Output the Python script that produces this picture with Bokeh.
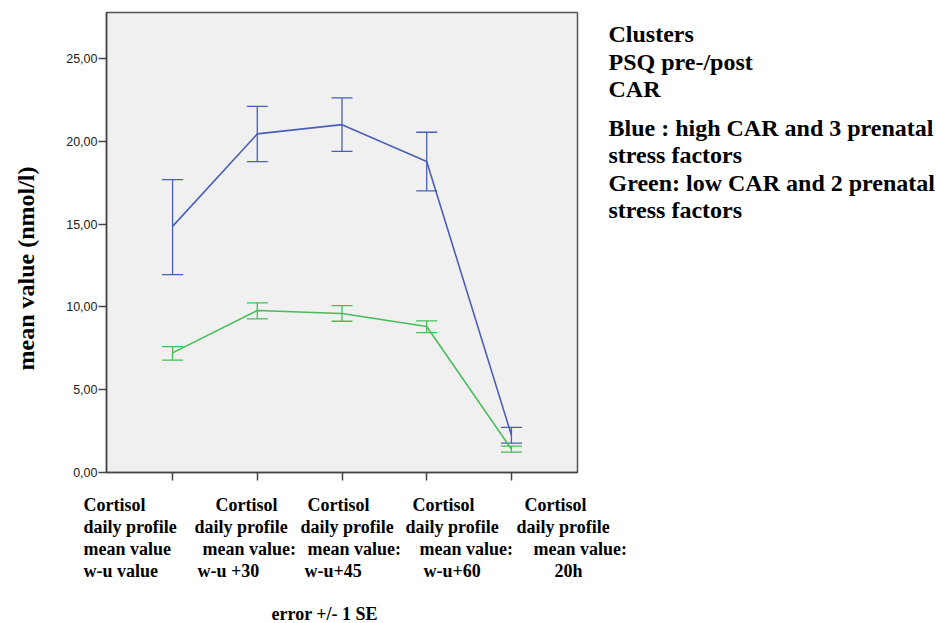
import math
from bokeh.plotting import figure
from bokeh.layouts import row, column
from bokeh.models import (ColumnDataSource, Whisker, TeeHead, FixedTicker, Range1d)
from bokeh.core.properties import value
from bokeh.embed import file_html
from bokeh.resources import INLINE

# ---------------- data ----------------
time_points = [1, 2, 3, 4, 5]
blue_mean = [14.86, 20.44, 21.00, 18.77, 2.25]
blue_upper = [17.68, 22.10, 22.61, 20.54, 2.73]
blue_lower = [11.95, 18.77, 19.39, 17.00, 1.77]
green_mean = [7.22, 9.78, 9.60, 8.81, 1.41]
green_upper = [7.60, 10.24, 10.08, 9.15, 1.59]
green_lower = [6.78, 9.27, 9.13, 8.45, 1.23]

y_tick_values = [0, 5, 10, 15, 20, 25]
y_tick_labels = ["0,00", "5,00", "10,00", "15,00", "20,00", "25,00"]

x_label_blocks = [
    ["Cortisol", "daily profile", "mean  value", "w-u value"],
    ["Cortisol", "daily profile", "mean value:", "w-u +30"],
    ["Cortisol", "daily profile", "mean  value:", "w-u+45"],
    ["Cortisol", "daily profile", "mean  value:", "w-u+60"],
    ["Cortisol", "daily profile", "mean  value:", "20h"],
]
x_title = "error +/- 1 SE"
y_title = "mean value (nmol/l)"
legend_lines = ["Clusters", "PSQ pre-/post", "CAR",
                "Blue : high CAR and 3 prenatal", "stress factors",
                "Green: low CAR and 2 prenatal", "stress factors"]

# ---------------- layout (picture px) ----------------
W, H = 936, 622
LEFT_W = 60            # strip holding the y title
FRAME_L, FRAME_T, FRAME_R, FRAME_B = 106, 12, 577, 472
FRAME_H = FRAME_B - FRAME_T
MAIN_BOTTOM = 16
TOP_H = FRAME_B + MAIN_BOTTOM
MAIN_W = FRAME_R + 2 - LEFT_W
RIGHT_W = W - (LEFT_W + MAIN_W)
BOT_H = H - TOP_H
block_lefts = [
    [83, 83, 83, 83],
    [215, 194, 202, 197],
    [307, 300, 307, 304],
    [412, 405, 419, 423],
    [524, 516, 533, 554],
]
row_ys = [504, 526, 548, 570]
x_title_pos = (271, 613)
y_title_pos = (25, 268)
legend_x = 608
legend_ys = [33, 61, 88, 127, 154, 182, 209]

BLUE = "#4a5eb6"
GREEN = "#45bd5a"
SERIF = "Liberation Serif"


def blank(width, frame_h, top, bottom_border):
    f = figure(frame_width=width, frame_height=frame_h,
               x_range=Range1d(0, width), y_range=Range1d(0, frame_h),
               min_border_left=0, min_border_right=0, min_border_top=top,
               min_border_bottom=bottom_border,
               x_axis_location=None, y_axis_location=None,
               output_backend="svg", toolbar_location=None)
    f.outline_line_color = None
    f.grid.visible = False
    f.background_fill_color = "white"
    f.border_fill_color = "white"
    return f


# ---------------- main chart ----------------
p = figure(frame_width=FRAME_R - FRAME_L, frame_height=FRAME_H,
           min_border_left=FRAME_L - LEFT_W, min_border_top=FRAME_T,
           min_border_right=2, min_border_bottom=MAIN_BOTTOM,
           x_range=Range1d(0.22, 5.78), y_range=Range1d(0, 27.77),
           output_backend="svg", toolbar_location=None)
p.border_fill_color = "white"
p.background_fill_color = "#f0f0f0"
p.outline_line_color = "#555555"
p.outline_line_width = 1.5
p.grid.visible = False

p.yaxis.ticker = FixedTicker(ticks=y_tick_values)
p.yaxis.major_label_overrides = {v: l for v, l in zip(y_tick_values, y_tick_labels)}
p.yaxis.major_label_text_font = "Liberation Sans"
p.yaxis.major_label_text_font_size = "12.5px"
p.yaxis.major_label_text_color = "#222222"
p.yaxis.major_label_standoff = 1
p.xaxis.ticker = FixedTicker(ticks=time_points)
p.xaxis.major_label_overrides = {t: "" for t in time_points}
for ax in (p.xaxis, p.yaxis):
    ax.axis_line_color = "#444444"
    ax.axis_line_width = 1.5
    ax.major_tick_line_color = "#444444"
    ax.major_tick_line_width = 1.5
    ax.major_tick_in = 0
    ax.major_tick_out = 8
    ax.minor_tick_line_color = None

for mean, up, lo, col in ((blue_mean, blue_upper, blue_lower, BLUE),
                          (green_mean, green_upper, green_lower, GREEN)):
    src = ColumnDataSource(dict(x=time_points, y=mean, upper=up, lower=lo))
    p.line("x", "y", source=src, line_color=col, line_width=1.6)
    w = Whisker(source=src, base="x", upper="upper", lower="lower",
                dimension="height", line_color=col, line_width=1.3,
                upper_head=TeeHead(size=21, line_color=col, line_width=1.3),
                lower_head=TeeHead(size=21, line_color=col, line_width=1.3))
    p.add_layout(w)

# ---------------- y title strip (frame aligned with the chart frame) ----------
left = blank(LEFT_W, FRAME_H, FRAME_T, MAIN_BOTTOM)
left.text(x=[y_title_pos[0]], y=[FRAME_B - y_title_pos[1]], text=[y_title],
          angle=math.pi / 2, text_font=value(SERIF), text_font_style="bold",
          text_font_size="24px", text_color="black",
          text_align="center", text_baseline="middle")

# ---------------- legend text strip ----------------
right = blank(RIGHT_W, FRAME_H, FRAME_T, MAIN_BOTTOM)
right.text(x=[legend_x - (LEFT_W + MAIN_W)] * len(legend_lines),
           y=[FRAME_B - ly for ly in legend_ys], text=legend_lines,
           text_font=value(SERIF), text_font_style="bold",
           text_font_size="24px", text_color="black",
           text_align="left", text_baseline="middle")

# ---------------- x category text strip ----------------
bottom = blank(W, BOT_H, 0, 0)
xs, ys, ts = [], [], []
for block, lefts in zip(x_label_blocks, block_lefts):
    for line, lx, ly in zip(block, lefts, row_ys):
        xs.append(lx)
        ys.append(H - ly)
        ts.append(line)
bottom.text(x=xs, y=ys, text=ts, text_font=value(SERIF), text_font_style="bold",
            text_font_size="18px", text_color="black",
            text_align="left", text_baseline="middle")
bottom.text(x=[x_title_pos[0]], y=[H - x_title_pos[1]], text=[x_title],
            text_font=value(SERIF), text_font_style="bold",
            text_font_size="18px", text_color="black",
            text_align="left", text_baseline="middle")

layout = column(row(left, p, right, spacing=0), bottom, spacing=0)
open("out.html", "w").write(file_html(layout, INLINE))
